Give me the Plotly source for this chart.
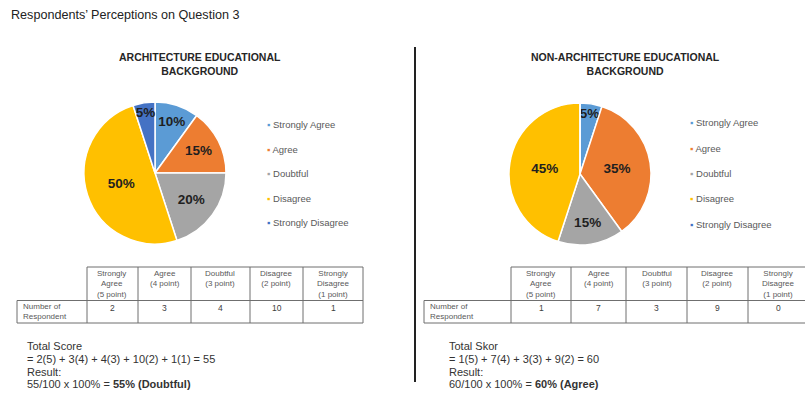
import plotly.graph_objects as go

W, H = 805, 397
FONT = "Liberation Sans, Arial, sans-serif"

# ---- data -------------------------------------------------------------
categories = ["Strongly Agree", "Agree", "Doubtful", "Disagree", "Strongly Disagree"]
points = [5, 4, 3, 2, 1]
arch_counts = [2, 3, 4, 10, 1]
nonarch_counts = [1, 7, 3, 9, 0]
header_labels = ["Strongly<br>Agree<br>(5 point)", "Agree<br>(4 point)",
                 "Doubtful<br>(3 point)", "Disagree<br>(2 point)",
                 "Strongly<br>Disagree<br>(1 point)"]
row_label = "Number of<br>Respondent"
arch_verdict = "Doubtful"
nonarch_verdict = "Agree"

colors = ["#5B9BD5", "#ED7D31", "#A5A5A5", "#FFC000", "#4472C4"]


def px(x):
    return x / W


def py(y):
    return 1 - y / H


fig = go.Figure()


def add_pie(counts, x0, x1, y0, y1, name):
    # empty categories get no slice and no label
    templates = ["%{percent:.0%}" if c else "" for c in counts]
    fig.add_trace(go.Pie(
        labels=categories, values=counts, name=name, sort=False,
        direction="clockwise", rotation=0,
        marker=dict(colors=colors, line=dict(color="white", width=1.5)),
        texttemplate=templates, textposition="inside",
        insidetextorientation="horizontal",
        textfont=dict(family=FONT, size=13.5, color="#1f1f1f", weight="bold"),
        domain=dict(x=[px(x0), px(x1)], y=[py(y1), py(y0)]),
        showlegend=False, hoverinfo="label+value+percent",
    ))


add_pie(arch_counts, 84, 226, 102, 244, "Architecture")
add_pie(nonarch_counts, 509, 651, 103, 245, "Non-Architecture")

# legend entries: a small coloured square drawn in the label text
for leg in ("legend", "legend2"):
    for i, (cat, col) in enumerate(zip(categories, colors)):
        fig.add_trace(go.Scatter(
            x=[None], y=[None], mode="markers",
            marker=dict(size=1, color="rgba(0,0,0,0)", opacity=0,
                        line=dict(width=0)),
            name=f"<span style='color:{col}'>▪</span> {cat}",
            legend=leg, legendgroup=f"{leg}-{i}", showlegend=True,
            hoverinfo="skip",
        ))

shapes = []
annotations = []


def text(x, y, s, size, color="#333333", xanchor="left", yanchor="middle",
         align="left", bold=False):
    annotations.append(dict(
        x=px(x), y=py(y), xref="paper", yref="paper", text=s, showarrow=False,
        xanchor=xanchor, yanchor=yanchor, align=align,
        font=dict(family=FONT, size=size, color=color,
                  weight="bold" if bold else "normal"),
    ))


def hline(x0, x1, y):
    shapes.append(dict(type="line", xref="paper", yref="paper",
                       x0=px(x0), x1=px(x1), y0=py(y), y1=py(y),
                       line=dict(color="#6f6f6f", width=1)))


def vline(x, y0, y1, color="#6f6f6f", width=1):
    shapes.append(dict(type="line", xref="paper", yref="paper",
                       x0=px(x), x1=px(x), y0=py(y0), y1=py(y1),
                       line=dict(color=color, width=width)))


def add_table(counts, label_x, cols, top=267, mid=300.5, bot=323):
    hline(cols[0], cols[-1], top)
    hline(label_x, cols[-1], mid)
    hline(label_x, cols[-1], bot)
    vline(label_x, mid, bot)
    for c in cols:
        vline(c, top, bot)
    for j, (hdr, n) in enumerate(zip(header_labels, counts)):
        cx = (cols[j] + cols[j + 1]) / 2
        text(cx, 266.5, hdr, 8, "#595959", xanchor="center", yanchor="top",
             align="center")
        text(cx, 308, str(n), 8.5, "#404040", xanchor="center")
    text(label_x + 4, 311, row_label, 8, "#595959")


add_table(arch_counts, 17, [87, 138, 191, 250, 303, 363])
add_table(nonarch_counts, 424, [511, 571, 626, 687, 748, 808])


def add_score(counts, verdict, x, heading):
    total = sum(c * p for c, p in zip(counts, points))
    max_score = max(points) * sum(counts)
    terms = " + ".join(f"{c}({p})" for c, p in zip(counts, points) if c)
    pct = round(total / max_score * 100)
    text(x, 346, heading, 11)
    text(x, 359, f"= {terms} = {total}", 11)
    text(x, 372, "Result:", 11)
    text(x, 383.5, f"{total}/{max_score} x 100% = <b>{pct}% ({verdict})</b>", 11)


add_score(arch_counts, arch_verdict, 25, "Total Score")
add_score(nonarch_counts, nonarch_verdict, 447, "Total Skor")

# titles
text(9, 15, "Respondents’ Perceptions on Question 3", 12.6, "#222222")
text(200, 63.5, "ARCHITECTURE EDUCATIONAL<br>BACKGROUND", 10.5, "#262626",
     xanchor="center", align="center", bold=True)
text(625, 63.5, "NON-ARCHITECTURE EDUCATIONAL<br>BACKGROUND", 10.5, "#262626",
     xanchor="center", align="center", bold=True)

# divider between the two panels
vline(415, 47, 382, color="#222222", width=2)

legend_style = dict(xanchor="left", yanchor="top", bgcolor="rgba(0,0,0,0)",
                    font=dict(family=FONT, size=9.5, color="#595959"),
                    traceorder="grouped", itemclick=False, itemdoubleclick=False)

fig.update_layout(
    width=W, height=H,
    margin=dict(l=0, r=0, t=0, b=0),
    paper_bgcolor="white", plot_bgcolor="white",
    xaxis=dict(visible=False), yaxis=dict(visible=False),
    legend=dict(x=px(227), y=py(110), tracegroupgap=5.5, **legend_style),
    legend2=dict(x=px(650), y=py(108), tracegroupgap=6.4, **legend_style),
    uniformtext=dict(minsize=13.5, mode="show"),
    shapes=shapes, annotations=annotations,
)

fig.write_html("out.html")
